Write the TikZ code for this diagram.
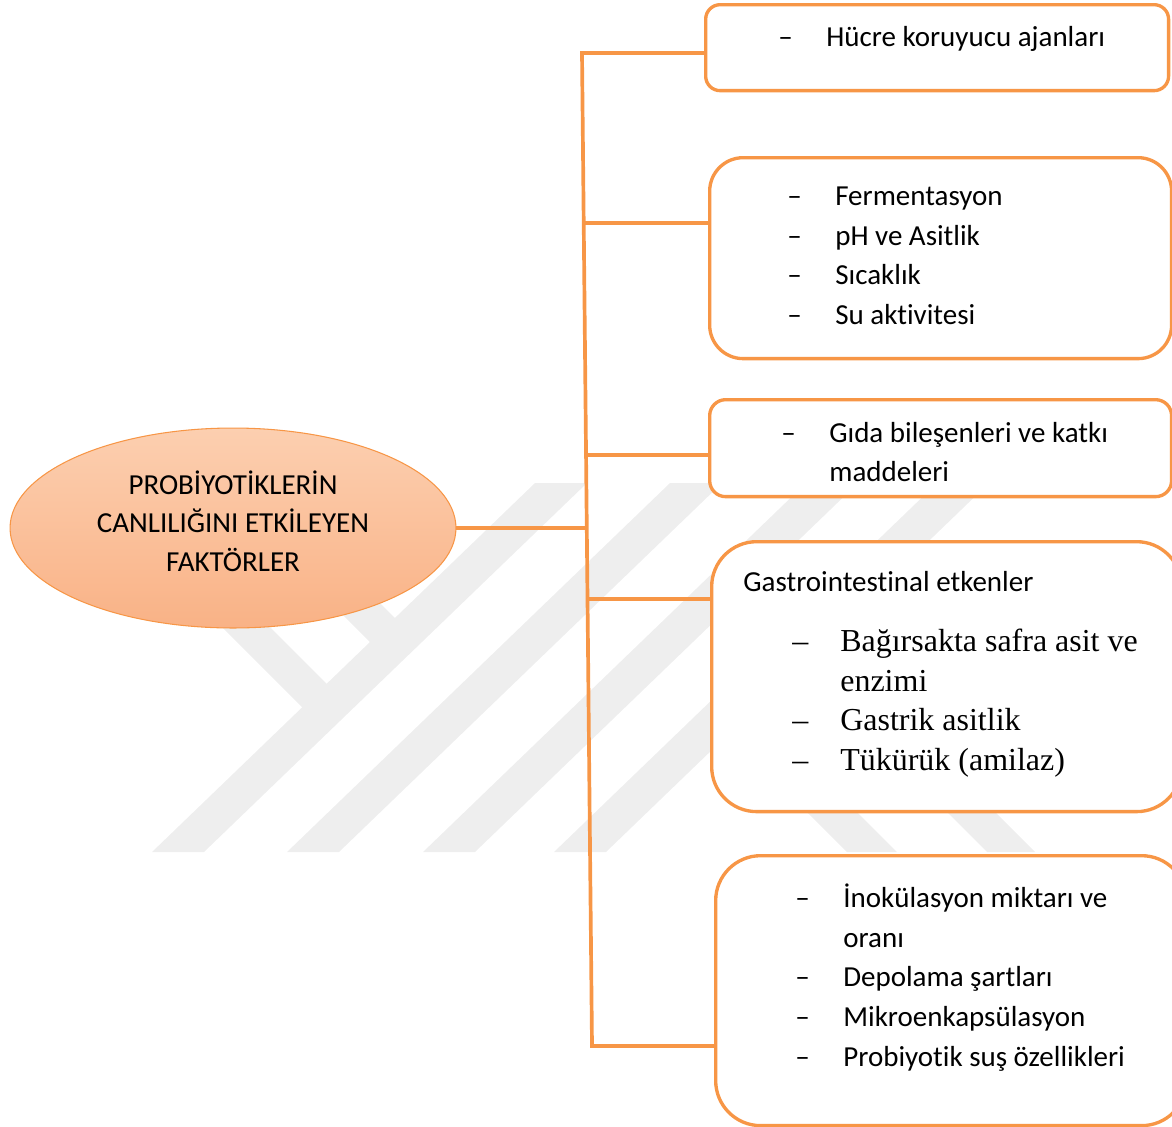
\documentclass[tikz,border=0pt]{standalone}
\usepackage{fontspec}
\setmainfont{Carlito}[Ligatures=NoCommon]
\newfontfamily\timesfont{Liberation Serif}
\usetikzlibrary{shapes.geometric}
\definecolor{turuncu}{RGB}{247,150,70}
\definecolor{gri}{RGB}{238,238,238}
\definecolor{elipsust}{RGB}{252,207,176}
\definecolor{elipsalt}{RGB}{249,178,134}
\newcommand{\liste}[1]{\begin{tabular}{@{}p{0.96cm}@{}l@{}}#1\end{tabular}}
\begin{document}
\begin{tikzpicture}[x=0.02cm,y=-0.02cm,
  hat/.style={draw=turuncu,line width=2.1pt},
  kutu/.style={draw=turuncu,line width=1.9pt,fill=white,anchor=north west,inner sep=0pt},
  yazi/.style={anchor=west,inner sep=0pt,font=\fontsize{16.5}{22.7}\selectfont},
  serif/.style={anchor=west,inner sep=0pt,font=\timesfont\fontsize{18.2}{22.7}\selectfont},
  iz/.style={fill=gri}]
\useasboundingbox (0,0) rectangle (1172,1126);
\clip (0,0) rectangle (1172,1126);
%watermark stripes
\foreach \x in {152,287,423,554}
  \fill[iz] (\x,852) -- (\x+52,852) -- (\x+435,483) -- (\x+383,483) -- cycle;
\fill[iz] (315,720) -- (333,690) -- (126,483) -- (78,483) -- cycle;
\fill[iz] (383,655) -- (407,630) -- (260,483) -- (211,483) -- cycle;
\fill[iz] (847,852) -- (897,852) -- (805,760) -- (755,760) -- cycle;
\fill[iz] (987,852) -- (1035,852) -- (943,760) -- (895,760) -- cycle;
%main ellipse
\node[ellipse,draw=turuncu,line width=0.6pt,top color=elipsust,bottom color=elipsalt,
  minimum width=8.92cm,minimum height=4cm,inner sep=0pt] (e) at (233,528) {};
\node[align=center,inner sep=0pt,font=\fontsize{16.5}{21.8}\selectfont] (et) at (233,521) {PROBİYOTİKLERİN\\CANLILIĞINI ETKİLEYEN\\FAKTÖRLER};
%boxes
\node[kutu,minimum width=9.26cm,minimum height=1.72cm,rounded corners=0.29cm] (b1) at (704,3) {};
\node[kutu,minimum width=9.24cm,minimum height=4.02cm,rounded corners=0.67cm] (b2) at (708,156) {};
\node[kutu,minimum width=9.24cm,minimum height=1.94cm,rounded corners=0.32cm] (b3) at (708,398) {};
\node[kutu,minimum width=9.4cm,minimum height=5.4cm,rounded corners=0.9cm] (b4) at (710,540) {};
\node[kutu,minimum width=9.42cm,minimum height=5.4cm,rounded corners=0.9cm] (b5) at (714,854) {};
%box texts
\node[yazi] (t1) at (778,39) {\liste{– & Hücre koruyucu ajanları}};
\node[yazi] (t2) at (787,257) {\liste{– & Fermentasyon\\ – & pH ve Asitlik\\ – & Sıcaklık\\ – & Su aktivitesi}};
\node[yazi] (t3) at (781,454) {\liste{– & Gıda bileşenleri ve katkı\\ & maddeleri}};
\node[yazi] (t4) at (743,582) {Gastrointestinal etkenler};
\node[serif] (t4l) at (792,703) {\liste{– & Bağırsakta safra asit ve\\ & enzimi\\ – & Gastrik asitlik\\ – & Tükürük (amilaz)}};
\node[yazi] (t5) at (795,979) {\liste{– & İnokülasyon miktarı ve\\ & oranı\\ – & Depolama şartları\\ – & Mikroenkapsülasyon\\ – & Probiyotik suş özellikleri}};
%trunk and branches
\coordinate (g1) at (582,53);
\coordinate (g2) at (583,223);
\coordinate (g3) at (585,455);
\coordinate (g0) at (586,528);
\coordinate (g4) at (588,599);
\coordinate (g5) at (592,1046);
\draw[hat] (g1 -| b1.west) -- (g1) -- (g5) -- (g5 -| b5.west);
\draw[hat] (g2) -- (g2 -| b2.west);
\draw[hat] (g3) -- (g3 -| b3.west);
\draw[hat] (e.east) -- (g0);
\draw[hat] (g4) -- (g4 -| b4.west);
\end{tikzpicture}
\end{document}
